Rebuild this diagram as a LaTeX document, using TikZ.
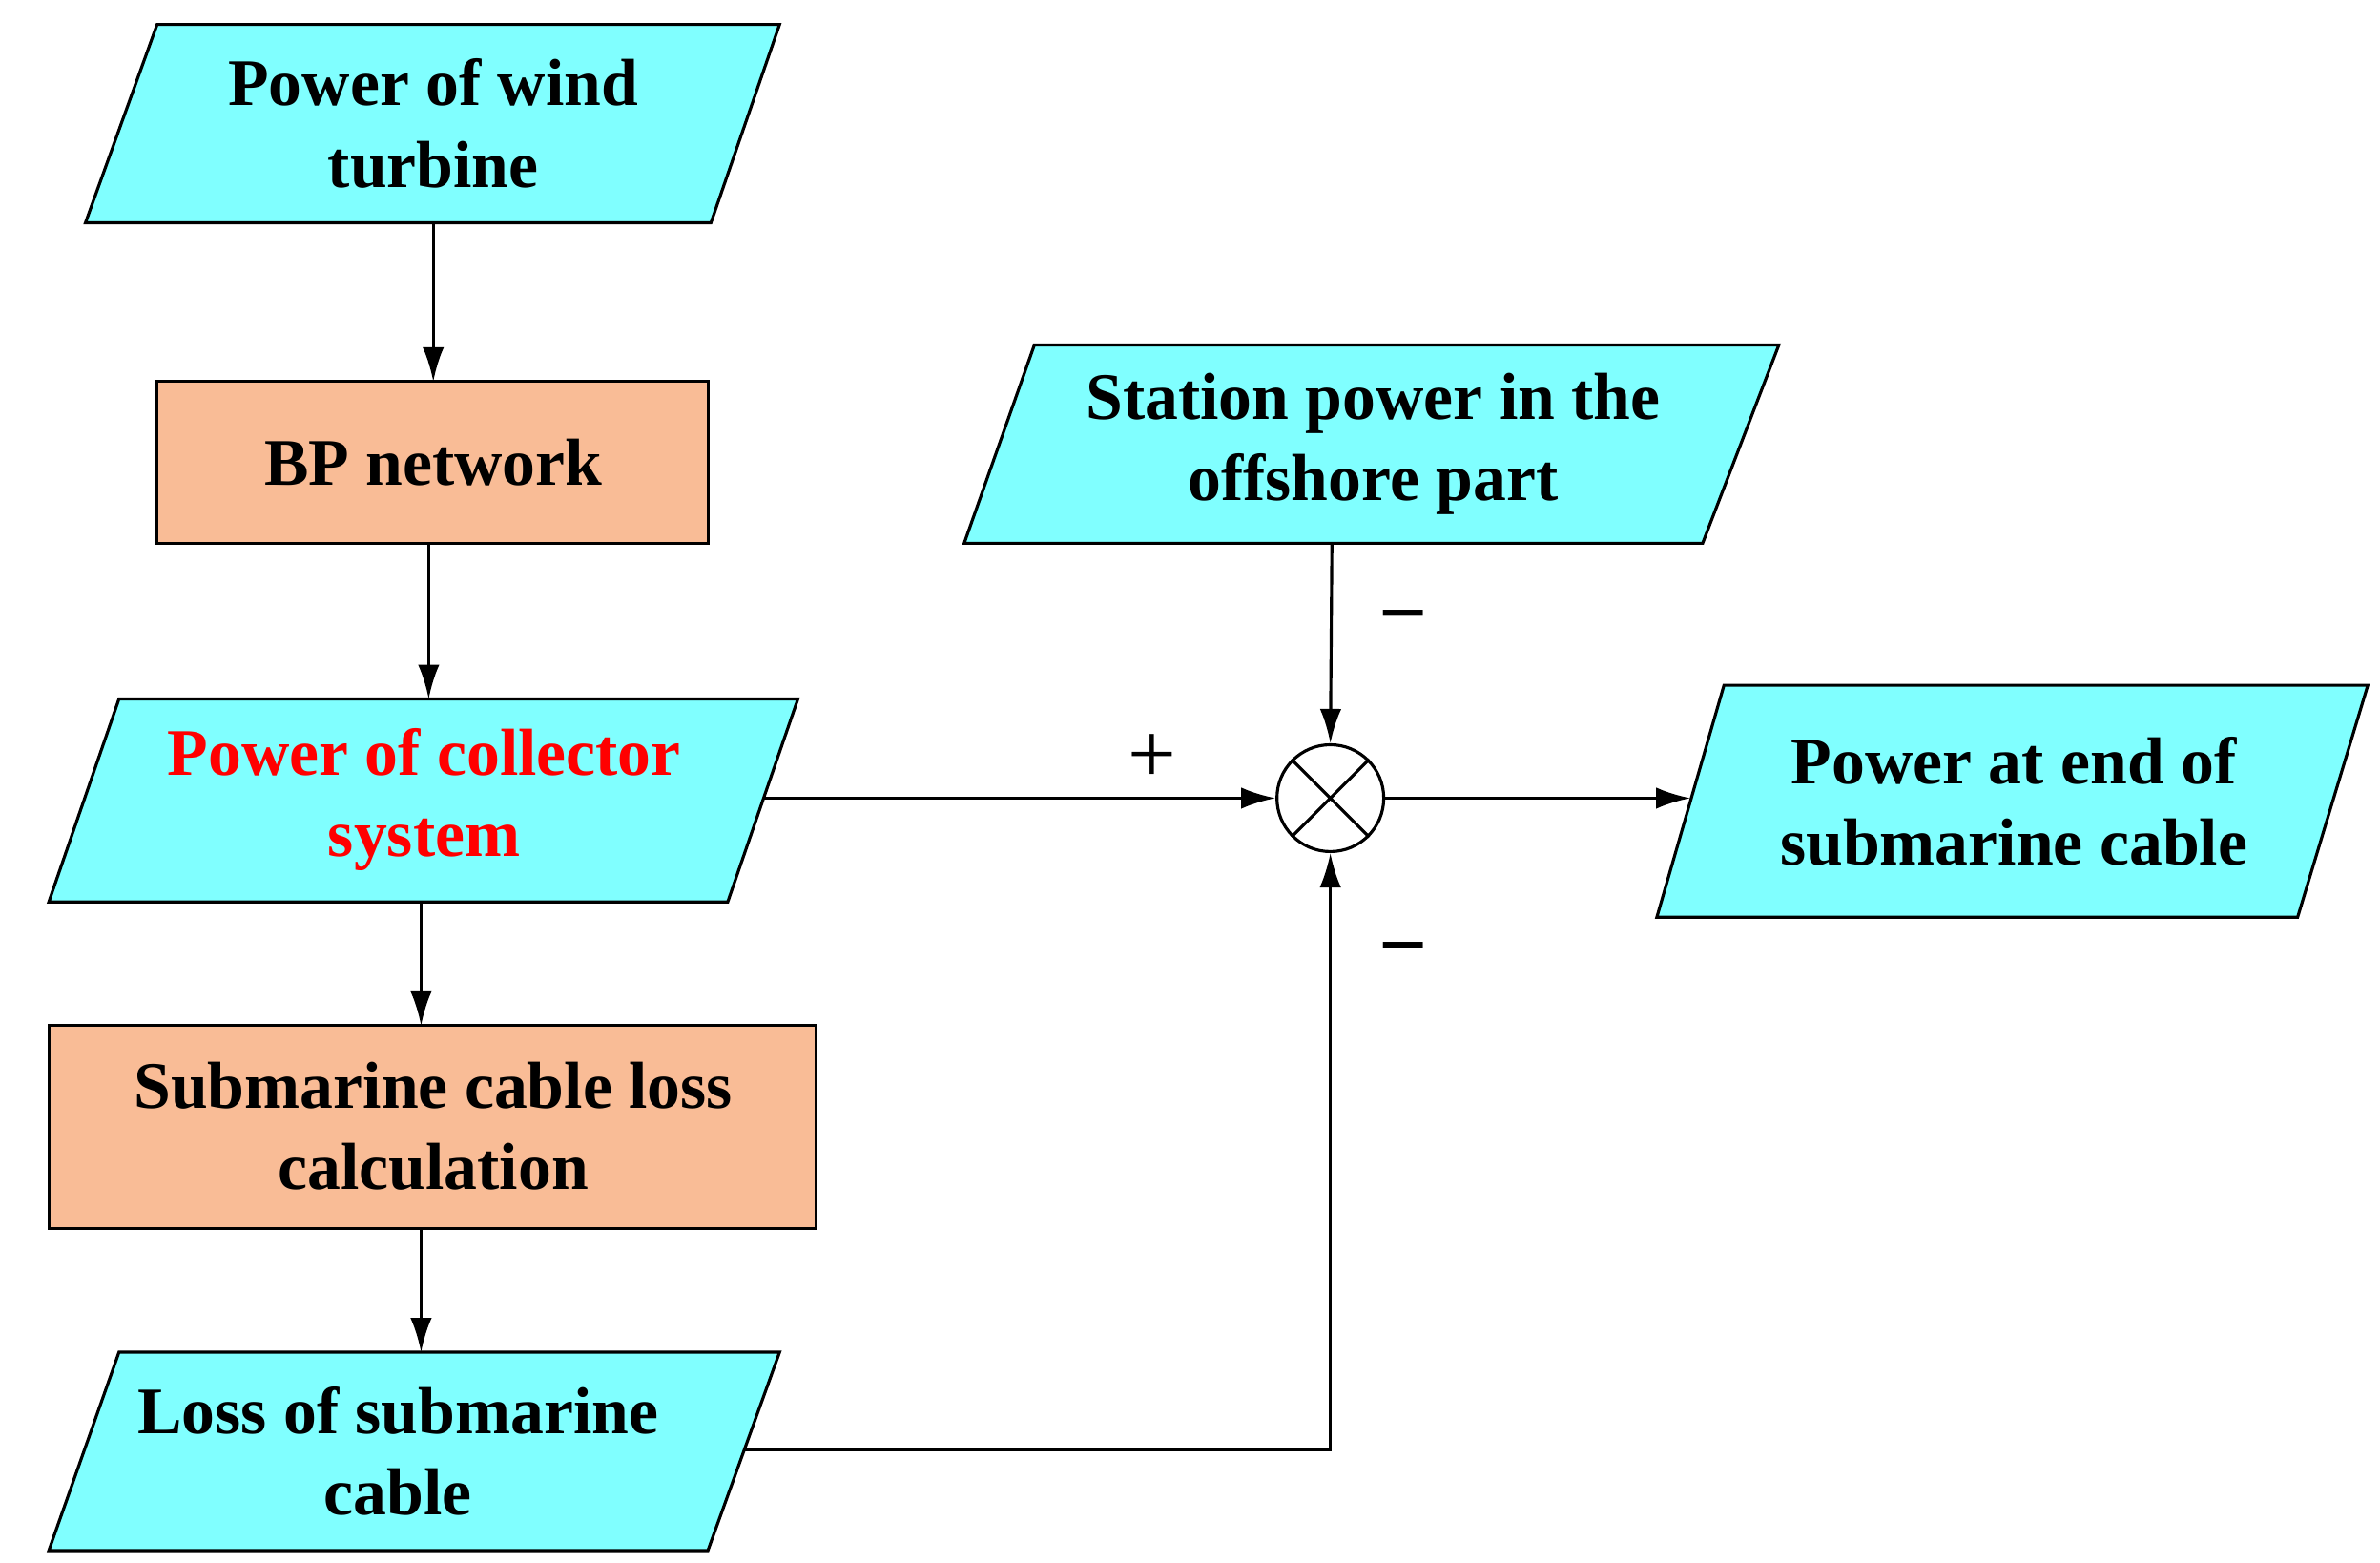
\documentclass[tikz,border=0pt]{standalone}
\usepackage{fontspec}
\setmainfont{Liberation Serif}
\usetikzlibrary{arrows.meta}
\definecolor{cy}{HTML}{80FFFF}
\definecolor{og}{HTML}{F9BC96}
\begin{document}
\begin{tikzpicture}[x=0.025cm,y=-0.025cm,
  box/.style={draw,line width=1.4pt},
  txt/.style={font=\fontsize{31}{38}\selectfont\bfseries,align=center},
  arr/.style={line width=1.4pt,-{Latex[length=16pt,width=10pt]}}]
\useasboundingbox (0,0) rectangle (1560,1024);
% parallelograms
\filldraw[box,fill=cy] (103,16)--(511,16)--(466,146)--(56,146)--cycle;
\node[txt] (w) at (284,81) {Power of wind\\turbine};
\filldraw[box,fill=og] (103,250) rectangle (464,356);
\node[txt] (bp) at (284,303) {BP network};
\filldraw[box,fill=cy] (78,458)--(523,458)--(477,591)--(32,591)--cycle;
\node[txt,text=red] (pc) at (278,524) {Power of collector\\system};
\filldraw[box,fill=og] (32,672) rectangle (535,805);
\node[txt] (sc) at (284,738) {Submarine cable loss\\calculation};
\filldraw[box,fill=cy] (78,886)--(511,886)--(464,1016)--(32,1016)--cycle;
\node[txt] (ls) at (261,951) {Loss of submarine\\cable};
\filldraw[box,fill=cy] (678,226)--(1166,226)--(1116,356)--(632,356)--cycle;
\node[txt] (st) at (900,291) {Station power in the\\offshore part};
\filldraw[box,fill=cy] (1130,449)--(1552,449)--(1506,601)--(1086,601)--cycle;
\node[txt] (pe) at (1320,525) {Power at end of\\submarine cable};
% summing junction
\node[circle,draw,line width=1.4pt,fill=white,minimum size=70*0.025cm,inner sep=0] (c) at (872,523) {};
\draw[line width=1.4pt] (c.45)--(c.225) (c.135)--(c.315);
% coordinates
\coordinate (wb) at (284,146); \coordinate (bpt) at (284,250);
\coordinate (bpb) at (281,356); \coordinate (pct) at (281,458);
\coordinate (pcb) at (276,591); \coordinate (sct) at (276,672);
\coordinate (scb) at (276,805); \coordinate (lst) at (276,886);
\coordinate (pcr) at (500,523); \coordinate (stb) at (873,356);
\coordinate (per) at (1108,523); \coordinate (lsr) at (488,950);
\draw[arr] (wb)--(bpt);
\draw[arr] (bpb)--(pct);
\draw[arr] (pcb)--(sct);
\draw[arr] (scb)--(lst);
\draw[arr] (pcr)--(c.west);
\draw[arr] (stb)--(c.north);
\draw[arr] (c.east)--(per);
\draw[arr] (lsr)-|(c.south);
\node[font=\fontsize{40}{40}\selectfont] (p) at (755,497) {+};
\node[font=\fontsize{40}{40}\selectfont] (m1) at (920,410) {\textbf{−}};
\node[font=\fontsize{40}{40}\selectfont] (m2) at (920,628) {\textbf{−}};
\end{tikzpicture}
\end{document}
